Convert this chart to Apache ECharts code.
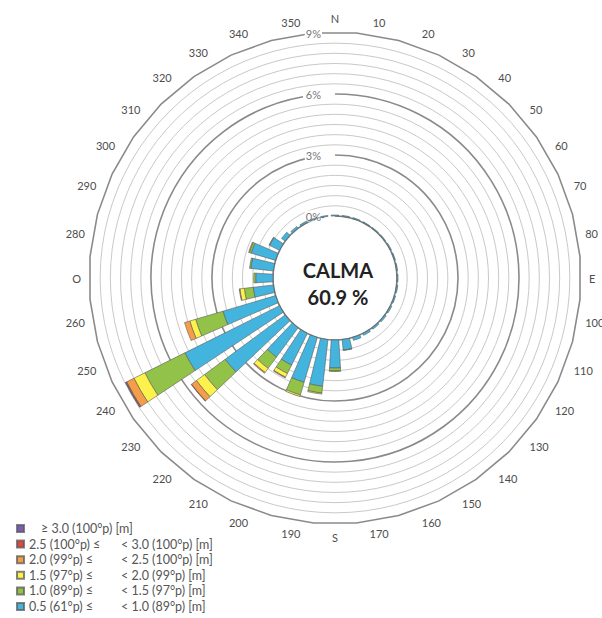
<!DOCTYPE html>
<html><head><meta charset="utf-8">
<script src="https://cdn.jsdelivr.net/npm/echarts@6/dist/echarts.min.js"></script>
<style>html,body{margin:0;padding:0;background:#fff}#c{width:602px;height:618px}</style>
</head><body><div id="c"></div>
<script>
// Direction labels (clockwise from north, every 10°)
const directions = ['N','10','20','30','40','50','60','70','80','E','100','110','120','130','140','150','160','170',
  'S','190','200','210','220','230','240','250','260','O','280','290','300','310','320','330','340','350'];
// Radial tick labels (%)
const radiusTicks = [0, 3, 6, 9];
const calmPct = 60.9;

// Frequencies (%) per direction, by wave-height class
const blue   = [0.05,0.05,0.05,0.04,0.04,0.04,0.05,0.05,0.05,0.05,0.06,0.06,0.07,0.08,0.08,0.10,0.15,0.52,1.38,2.31,2.30,1.74,1.79,3.67,5.20,2.70,1.00,0.85,1.12,1.25,0.55,0.22,0.10,0.08,0.06,0.05];
const green  = [0,0,0,0,0,0,0,0,0,0,0,0,0,0,0,0,0,0.02,0.14,0.34,0.65,0.46,0.69,1.26,2.20,1.40,0.44,0.10,0.06,0.10,0.03,0,0,0,0,0];
const yellow = [0,0,0,0,0,0,0,0,0,0,0,0,0,0,0,0,0,0,0.03,0.05,0.08,0.20,0.25,0.50,0.60,0.30,0.22,0,0,0.03,0,0,0,0,0,0];
const orange = [0,0,0,0,0,0,0,0,0,0,0,0,0,0,0,0,0,0,0,0,0,0.04,0.05,0.30,0.40,0.27,0.03,0,0,0,0,0,0,0,0,0];
const red    = [0,0,0,0,0,0,0,0,0,0,0,0,0,0,0,0,0,0,0,0,0,0,0,0.02,0.05,0,0,0,0,0,0,0,0,0,0,0];
const purple = [0,0,0,0,0,0,0,0,0,0,0,0,0,0,0,0,0,0,0,0,0,0,0,0,0.02,0,0,0,0,0,0,0,0,0,0,0];

// Class labels (lower bound part, upper bound part)
const classLow  = ['0.5 (61°p) ≤', '1.0 (89°p) ≤', '1.5 (97°p) ≤', '2.0 (99°p) ≤', '2.5 (100°p) ≤', ''];
const classHigh = ['< 1.0 (89°p) [m]', '< 1.5 (97°p) [m]', '< 2.0 (99°p) [m]', '< 2.5 (100°p) [m]', '< 3.0 (100°p) [m]', '≥ 3.0 (100°p) [m]'];
const classColors = ['#43b4de', '#92c248', '#fdf24c', '#f59e4a', '#e0493d', '#7b5cb8'];
const classData = [blue, green, yellow, orange, red, purple];

const FONT = 'Lato, "Open Sans", sans-serif';
const CX = 335, CY = 278, R0 = 62, R1 = 245;

const names = classHigh.map((h, i) => (classLow[i] ? classLow[i] + ' ' : '') + h);
const nameIdx = {};
names.forEach((n, i) => nameIdx[n] = i);

const series = classData.map((arr, i) => ({
  type: 'bar',
  coordinateSystem: 'polar',
  stack: 'rose',
  name: names[i],
  data: arr.map(v => v > 0 ? v : null),
  barCategoryGap: '30%',
  itemStyle: { color: classColors[i], borderColor: 'rgba(90,90,90,0.75)', borderWidth: 0.8 },
  emphasis: { disabled: true },
  z: 3
}));

const chart = echarts.init(document.getElementById('c'), null, { renderer: 'svg' });
chart.setOption({
  animation: false,
  backgroundColor: '#fff',
  textStyle: { fontFamily: FONT },
  polar: { center: [CX, CY], radius: [R0, R1] },
  radar: {
    center: [CX, CY],
    radius: R1 / Math.cos(Math.PI / 36),
    startAngle: 95,
    shape: 'polygon',
    splitNumber: 1,
    indicator: directions.map(() => ({ name: '', max: 1 })),
    axisName: { show: false },
    axisLine: { show: false },
    axisTick: { show: false },
    axisLabel: { show: false },
    splitArea: { show: false },
    splitLine: { lineStyle: { color: '#8a8a8a', width: 1.6 } },
    z: 1
  },
  angleAxis: {
    type: 'category',
    data: directions,
    startAngle: 90,
    clockwise: true,
    boundaryGap: false,
    axisLine: { show: false },
    axisTick: { show: false },
    splitLine: { show: false },
    axisLabel: { color: '#4d4d4d', fontSize: 11, fontFamily: FONT, margin: 9, interval: 0 }
  },
  radiusAxis: {
    type: 'value',
    min: 0, max: 9, interval: 3,
    axisLine: { show: false },
    axisTick: { show: false },
    axisLabel: {
      formatter: v => radiusTicks.indexOf(v) >= 0 ? v + '%' : '',
      color: '#777', fontSize: 11, fontFamily: FONT, margin: 13,
      backgroundColor: '#fff', padding: [0, 1]
    },
    splitLine: { show: true, lineStyle: { color: ['#7a7a7a', '#8a8a8a', '#8a8a8a', 'rgba(0,0,0,0)'], width: 1.6 } },
    minorTick: { show: false, splitNumber: 6 },
    minorSplitLine: { show: true, lineStyle: { color: '#c9c9c9', width: 1 } },
    z: 2
  },
  legend: {
    orient: 'vertical',
    left: 16, top: 522,
    padding: 0,
    height: 120,
    itemWidth: 7, itemHeight: 7, itemGap: 2.6,
    icon: 'rect',
    data: names.slice().reverse(),
    formatter: n => {
      const i = nameIdx[n];
      return classLow[i] ? '{a|' + classLow[i] + '}{b|' + classHigh[i] + '}' : '{c|' + classHigh[i] + '}';
    },
    textStyle: {
      color: '#555', fontSize: 12.5, fontFamily: FONT, lineHeight: 12,
      rich: {
        a: { width: 92, fontSize: 12.5, color: '#555', fontFamily: FONT, lineHeight: 12 },
        b: { fontSize: 12.5, color: '#555', fontFamily: FONT, lineHeight: 12 },
        c: { fontSize: 12.5, color: '#555', fontFamily: FONT, lineHeight: 12, padding: [0, 0, 0, 12] }
      }
    }
  },
  graphic: [{
    type: 'text',
    x: 338, y: 283,
    z: 10,
    style: {
      text: 'CALMA\n' + calmPct.toFixed(1) + ' %',
      font: 'bold 20px ' + FONT,
      fill: '#222',
      align: 'center',
      verticalAlign: 'middle',
      lineHeight: 27
    }
  }],
  series: series
});
</script>
</body></html>
